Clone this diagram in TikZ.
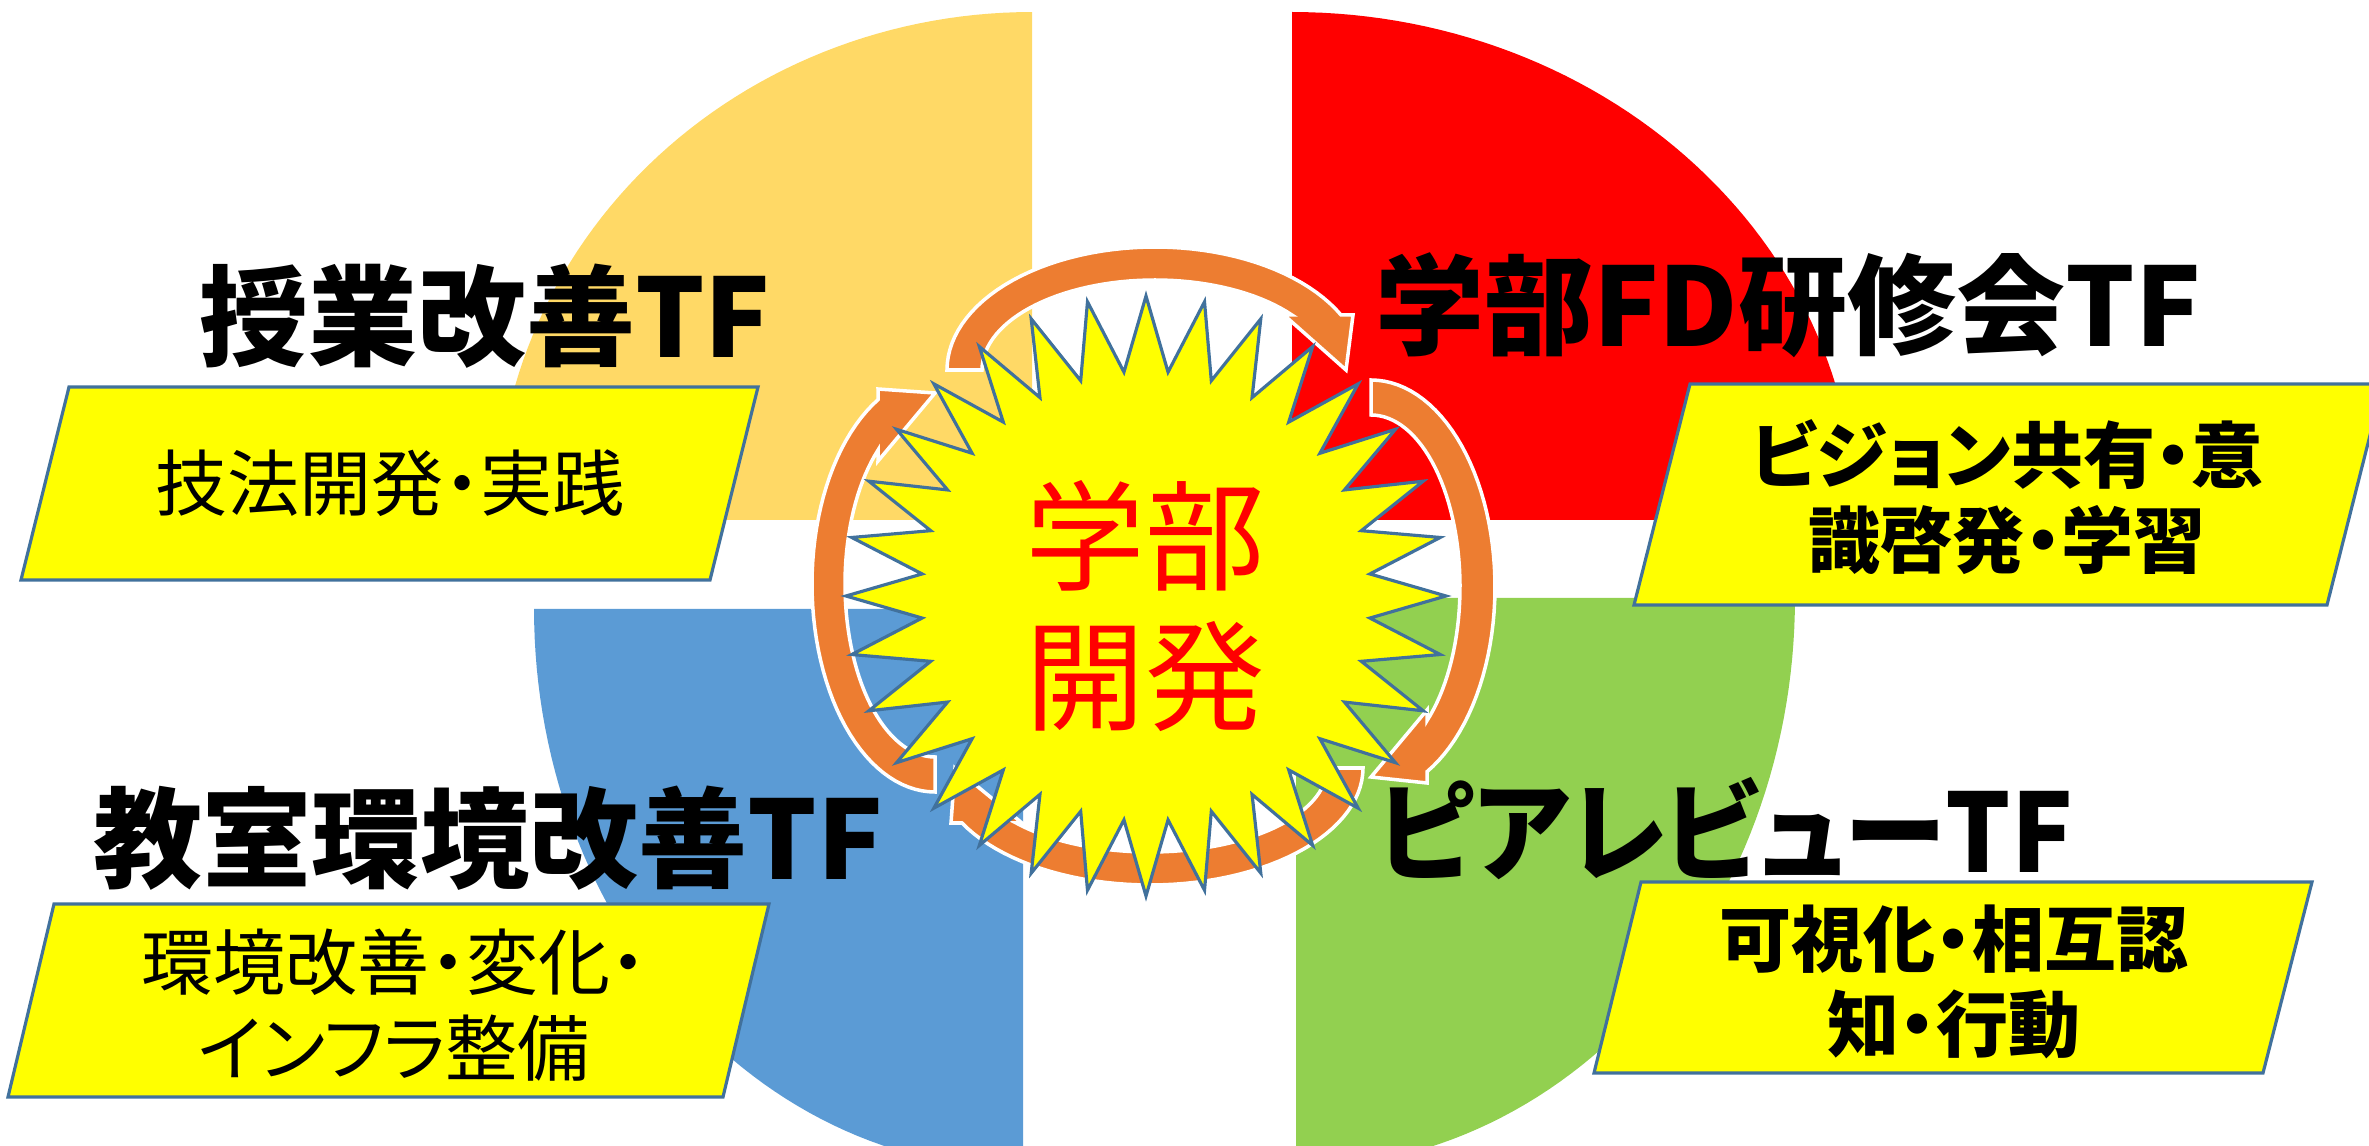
\documentclass[tikz,border=0pt]{standalone}
\usepackage{fontspec}
\newfontfamily\jp{Noto Sans CJK JP}
\newfontfamily\jpp{Noto Sans CJK JP}[RawFeature=+palt]
\definecolor{qyellow}{RGB}{255,217,102}
\definecolor{qred}{RGB}{255,0,0}
\definecolor{qblue}{RGB}{91,155,213}
\definecolor{qgreen}{RGB}{146,208,80}
\definecolor{arrorange}{RGB}{237,125,49}
\definecolor{edgeblue}{RGB}{65,113,156}
\definecolor{hiyellow}{RGB}{255,255,0}
\tikzset{
  cyc/.style={fill=arrorange, draw=white, line width=1pt, line join=miter},
  burst/.style={fill=hiyellow, draw=edgeblue, line width=0.9pt, line join=miter},
  tagbox/.style={fill=hiyellow, draw=edgeblue, line width=0.9pt, line join=miter},
  heading/.style={font=\jp\bfseries\fontsize{31}{36}\selectfont, inner sep=0pt},
  headingp/.style={font=\jpp\bfseries\fontsize{31}{36}\selectfont, inner sep=0pt},
  boxtext/.style={font=\jpp\fontsize{20.5}{24.3}\selectfont, align=center, inner sep=0pt},
  boxtextb/.style={font=\jpp\bfseries\fontsize{20.5}{24.3}\selectfont, align=center, inner sep=0pt},
  coretext/.style={font=\jp\fontsize{34}{40}\selectfont, text=qred, align=center, inner sep=0pt}
}
\begin{document}
\begin{tikzpicture}[x=0.01cm,y=-0.01cm]
\useasboundingbox (0,0) rectangle (2369,1146);
\clip (0,0) rectangle (2369,1146);
% quadrants
\fill[qyellow] (1032,520) -- plot[domain=180:270,samples=60] ({1032+536*cos(\x)},{520+508*sin(\x)}) -- cycle;
\fill[qred] (1292,520) -- plot[domain=270:360,samples=60] ({1292+564*cos(\x)},{520+508*sin(\x)}) -- cycle;
\fill[qblue] (1023,609) -- plot[domain=90:180,samples=60] ({1023+489*cos(\x)},{609+560*sin(\x)}) -- cycle;
\fill[qgreen] (1296,598) -- plot[domain=0:90,samples=60] ({1296+499*cos(\x)},{598+570*sin(\x)}) -- cycle;
% tag boxes
\draw[tagbox] (69,387) -- (758,387) -- (710,580) -- (21,580) -- cycle;
\draw[tagbox] (1690,384) -- (2383,384) -- (2327,605) -- (1634,605) -- cycle;
\draw[tagbox] (54,904) -- (769,904) -- (723,1097) -- (8,1097) -- cycle;
\draw[tagbox] (1641,882) -- (2312,882) -- (2263,1073) -- (1594,1073) -- cycle;
\node[boxtext] (t1) at (390,483) {技法開発・実践};
\node[boxtextb] (t2) at (2007,497) {ビジョン共有・意\\識啓発・学習};
\node[boxtext] (t3) at (394,1005) {環境改善・変化・\\インフラ整備};
\node[boxtextb] (t4) at (1954,982) {可視化・相互認\\知・行動};
% headings
\node[heading] (h1) at (485,316) {授業改善TF};
\node[heading] (h2) at (1788,305) {学部FD研修会TF};
\node[heading] (h3) at (488,838) {教室環境改善TF};
\node[headingp] (h4) at (1725,829) {\scalebox{0.94}[1]{ピアレビューTF}};
% cycle arrows
\draw[cyc] plot[domain=180:333.4,samples=50] ({1155+208*cos(\x)},{370+123*sin(\x)})
  -- (1353,315) -- (1346,370) -- (1284,315)
  -- plot[domain=322.3:180,samples=50] ({1155+173*cos(\x)},{370+90*sin(\x)}) -- cycle;
\draw[cyc] plot[domain=-90:63.15,samples=50] ({1371+124*cos(\x)},{587+207*sin(\x)})
  -- (1427,783) -- (1371,777) -- (1427,710)
  -- plot[domain=51.0:-90,samples=50] ({1371+89*cos(\x)},{587+172*sin(\x)}) -- cycle;
\draw[cyc] plot[domain=0:151.96,samples=50] ({1150+213*cos(\x)},{768+117*sin(\x)})
  -- (951,823) -- (955,768) -- (1022,823)
  -- plot[domain=139.1:0,samples=50] ({1150+177*cos(\x)},{768+84*sin(\x)}) -- cycle;
\draw[cyc] plot[domain=90:242.4,samples=50] ({935+123*cos(\x)},{584+208*sin(\x)})
  -- (878,389) -- (935,393) -- (878,461)
  -- plot[domain=230.8:90,samples=50] ({935+90*cos(\x)},{584+173*sin(\x)}) -- cycle;
% burst
\draw[burst] (1146,296) \foreach \i in {1,...,63}{
  -- ({1146+ifthenelse(mod(\i,2)==0,300,225)*sin(\i*5.625)},{596-ifthenelse(mod(\i,2)==0,300,225)*cos(\i*5.625)}) } -- cycle;
\node[coretext] (core) at (1145,606) {学部\\開発};
\end{tikzpicture}
\end{document}
